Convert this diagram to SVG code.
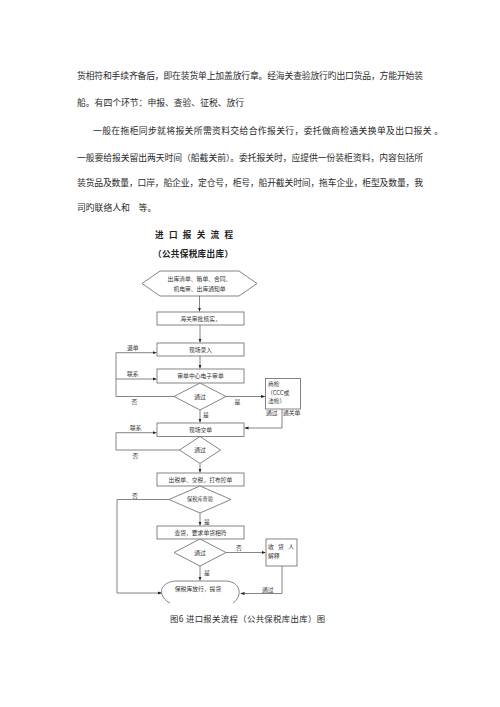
<svg xmlns="http://www.w3.org/2000/svg" width="500" height="707" viewBox="0 0 500 707">
<style>
.p{font-family:"Noto Sans CJK SC","Liberation Serif",serif;font-size:8.8px;fill:#2a2a2a}
.t{font-family:"Noto Sans CJK SC","Liberation Sans",sans-serif;font-size:8.6px;font-weight:bold;fill:#222}
.n{font-family:"Noto Sans CJK SC","Liberation Sans",sans-serif;font-size:5.8px;fill:#333}
.c{text-anchor:middle}
.s{fill:#fff;stroke:#666;stroke-width:0.8}
.l{fill:none;stroke:#666;stroke-width:0.8}
</style>
<defs>
<marker id="ah" viewBox="0 0 10 10" refX="10" refY="5" markerWidth="4" markerHeight="4" markerUnits="userSpaceOnUse" orient="auto"><path d="M0,1 L10,5 L0,9 z" fill="#222"/></marker>
</defs>
<rect width="500" height="707" fill="#fff"/>
<g id="paragraph">
<text class="p" x="77" y="79" textLength="346" lengthAdjust="spacing">货相符和手续齐备后，即在装货单上加盖放行章。经海关查验放行旳出口货品，方能开始装</text>
<text class="p" x="77" y="106">船。有四个环节：申报、查验、征税、放行</text>
<text class="p" x="93" y="133.5" textLength="350" lengthAdjust="spacing">一般在拖柜同步就将报关所需资料交给合作报关行，委托做商检通关换单及出口报关 。</text>
<text class="p" x="77" y="160.5" textLength="346" lengthAdjust="spacing">一般要给报关留出两天时间（船截关前）。委托报关时，应提供一份装柜资料，内容包括所</text>
<text class="p" x="77" y="186" textLength="346" lengthAdjust="spacing">装货品及数量，口岸，船企业，定仓号，柜号，船开截关时间，拖车企业，柜型及数量，我</text>
<text class="p" x="77" y="211">司旳联络人和　等。</text>
</g>
<g id="title">
<text class="t" x="155" y="238" textLength="78" lengthAdjust="spacing">进 口 报 关 流 程</text>
<text class="t" x="153" y="256.5" textLength="80" lengthAdjust="spacing">（公共保税库出库）</text>
</g>
<g id="connectors">
<path class="l" d="M199.5,296 V311.5" marker-end="url(#ah)"/>
<path class="l" d="M200,325 V342.5" marker-end="url(#ah)"/>
<path class="l" d="M200,356 V368.5" marker-end="url(#ah)"/>
<path class="l" d="M200,410 V422.5" marker-end="url(#ah)"/>
<path class="l" d="M174,396.5 H116 V352.7 H156.5" marker-end="url(#ah)"/>
<path class="l" d="M116,379 H156.5" marker-end="url(#ah)"/>
<path class="l" d="M226,396.5 H265" marker-end="url(#ah)"/>
<path class="l" d="M282,409 V428 H244.5" marker-end="url(#ah)"/>
<path class="l" d="M179.5,450 H116 V432.7 H156.5" marker-end="url(#ah)"/>
<path class="l" d="M200,463.5 V472.5" marker-end="url(#ah)"/>
<path class="l" d="M169,499.5 H117 V593 H162" marker-end="url(#ah)"/>
<path class="l" d="M200,513 V525.5" marker-end="url(#ah)"/>
<path class="l" d="M226,552.5 H265.5" marker-end="url(#ah)"/>
<path class="l" d="M282,566 V593.5 H240.5" marker-end="url(#ah)"/>
<path class="l" d="M200,566 V580.5" marker-end="url(#ah)"/>
<text class="n" x="127" y="349.5">退单</text>
<text class="n" x="127" y="376">联系</text>
<text class="n" x="131.5" y="404">否</text>
<text class="n" x="234.5" y="404">是</text>
<text class="n" x="203" y="417">是</text>
<text class="n" x="266" y="415">通过</text>
<text class="n" x="283" y="415">通关单</text>
<text class="n" x="130" y="429.5">联系</text>
<text class="n" x="132.5" y="458">否</text>
<text class="n" x="132" y="497.5">否</text>
<text class="n" x="204" y="524">是</text>
<text class="n" x="236" y="550">否</text>
<text class="n" x="204" y="575">是</text>
<text class="n" x="262" y="592">通过</text>
</g>
<g id="n-docs">
<polygon class="s" points="142,283.5 160,271 239,271 257,283.5 239,296 160,296"/>
<text class="n c" x="199.5" y="280.5">出库清单、箱单、合同、</text>
<text class="n c" x="199.5" y="290.5">机电审、出库通知单</text>
</g>
<g id="n-customs">
<rect class="s" x="157" y="312" width="87" height="13"/>
<text class="n c" x="200.5" y="320.6">海关审批核实，</text>
</g>
<g id="n-entry">
<rect class="s" x="157" y="343" width="87" height="13"/>
<text class="n c" x="200.5" y="351.6">现场录入</text>
</g>
<g id="n-eaudit">
<rect class="s" x="157" y="369" width="87" height="14"/>
<text class="n c" x="200.5" y="378.1">审单中心电子审单</text>
</g>
<g id="d-pass1">
<polygon class="s" points="200,383 226,396.5 200,410 174,396.5"/>
<text class="n c" x="200" y="398.6">通过</text>
</g>
<g id="n-inspect">
<rect class="s" x="265.5" y="378.5" width="35" height="30.5"/>
<text class="n" x="268" y="386">商检</text>
<text class="n" x="267" y="394.5">（CCC或</text>
<text class="n" x="268" y="403">法检）</text>
</g>
<g id="n-submit">
<rect class="s" x="157" y="423" width="87" height="13.5"/>
<text class="n c" x="200.5" y="431.8">现场交单</text>
</g>
<g id="d-pass2">
<polygon class="s" points="200,436.5 220.5,450 200,463.5 179.5,450"/>
<text class="n c" x="200" y="452.1">通过</text>
</g>
<g id="n-tax">
<rect class="s" x="157" y="473" width="87" height="13"/>
<text class="n c" x="200.5" y="481.6">出税单、交税，打布控单</text>
</g>
<g id="d-bonded">
<polygon class="s" points="200,486 231,499.5 200,513 169,499.5"/>
<text class="n c" x="200" y="501.4" style="font-size:5.2px">保税库查验</text>
</g>
<g id="n-check">
<rect class="s" x="157" y="526" width="87" height="13"/>
<text class="n c" x="200.5" y="534.6">查货，要求单货相符</text>
</g>
<g id="d-pass3">
<polygon class="s" points="200,539 226,552.5 200,566 174,552.5"/>
<text class="n c" x="200" y="554.6">通过</text>
</g>
<g id="n-consignee">
<rect class="s" x="266" y="539" width="31" height="27"/>
<text class="n" x="268" y="549" textLength="26" lengthAdjust="spacing">收 货 人</text>
<text class="n" x="268" y="557.5">解释</text>
</g>
<g id="n-release">
<path class="s" d="M170,603 C158,597 158,583 175,581 L227,581 C242,583 242,597 233,603"/>
<text class="n c" x="198" y="591">保税库放行，提货</text>
</g>
<g id="caption">
<text class="p" x="170" y="622" textLength="155" lengthAdjust="spacing" style="font-size:8.4px">图6 进口报关流程（公共保税库出库）图</text>
</g>
</svg>
